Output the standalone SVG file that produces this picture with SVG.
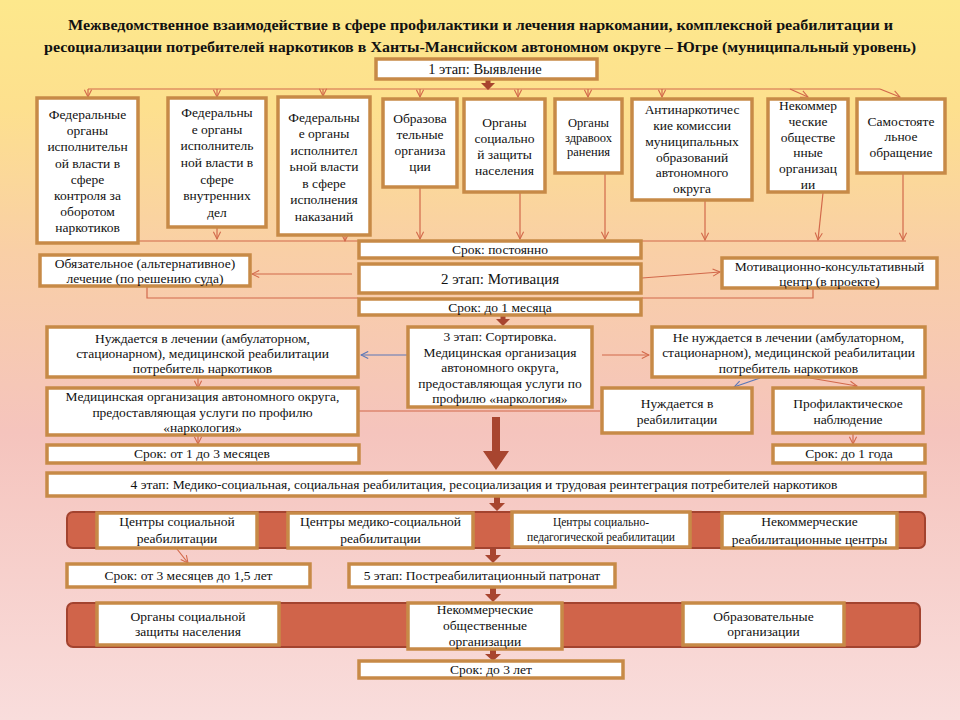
<svg xmlns="http://www.w3.org/2000/svg" width="960" height="720" viewBox="0 0 960 720">
<defs>
<linearGradient id="bg" x1="0" y1="0" x2="0" y2="1">
<stop offset="0" stop-color="#fde88c"/>
<stop offset="0.15" stop-color="#fde08e"/>
<stop offset="0.35" stop-color="#f9cfa6"/>
<stop offset="0.6" stop-color="#f5c4bd"/>
<stop offset="1" stop-color="#f9dddc"/>
</linearGradient>
<marker id="ah" viewBox="0 0 10 10" refX="9" refY="5" markerWidth="9" markerHeight="9" markerUnits="userSpaceOnUse" orient="auto"><path d="M1,1 L9,5 L1,9" fill="none" stroke="#d2694b" stroke-width="1.2"/></marker>
<marker id="ahb" viewBox="0 0 10 10" refX="9" refY="5" markerWidth="9" markerHeight="9" markerUnits="userSpaceOnUse" orient="auto"><path d="M1,1 L9,5 L1,9" fill="none" stroke="#5a77b8" stroke-width="1.2"/></marker>
</defs>
<style>
.box{fill:#fff;stroke:#c78a47;stroke-width:3.5}
.bar{fill:#d0644a;stroke:#a3432f;stroke-width:2}
.t{font-family:"Liberation Serif","DejaVu Serif",serif;font-size:13.5px;fill:#111;text-anchor:middle}
.s{font-size:12.5px}
.ti{font-family:"Liberation Serif","DejaVu Serif",serif;font-size:15px;font-weight:bold;fill:#111}
.c{fill:none;stroke:#d2694b;stroke-width:1.2}
.cb{fill:none;stroke:#5a77b8;stroke-width:1.2}
.th{fill:#a8452f}
</style>
<rect x="0" y="0" width="960" height="720" fill="url(#bg)"/>
<g id="title">
<text class="ti" x="68" y="30" textLength="825" lengthAdjust="spacingAndGlyphs">Межведомственное взаимодействие  в сфере профилактики и лечения наркомании, комплексной реабилитации и</text>
<text class="ti" x="44" y="52" textLength="872" lengthAdjust="spacingAndGlyphs">ресоциализации  потребителей наркотиков в Ханты-Мансийском автономном округе – Югре (муниципальный уровень)</text>
</g>
<g id="connectors">
<path class="c" d="M88,89 H880"/>
<path class="c" d="M88,89 V97" marker-end="url(#ah)"/>
<path class="c" d="M217,89 V97" marker-end="url(#ah)"/>
<path class="c" d="M323,89 V96" marker-end="url(#ah)"/>
<path class="c" d="M420,89 V97" marker-end="url(#ah)"/>
<path class="c" d="M518,89 V97" marker-end="url(#ah)"/>
<path class="c" d="M588,89 V97" marker-end="url(#ah)"/>
<path class="c" d="M662,89 V97" marker-end="url(#ah)"/>
<path class="c" d="M790,89 L808,97" marker-end="url(#ah)"/>
<path class="c" d="M880,89 L900,97" marker-end="url(#ah)"/>
<path class="c" d="M138,241 H358"/>
<path class="c" d="M217,228 V239" marker-end="url(#ah)"/>
<path class="c" d="M345,236 V241" marker-end="url(#ah)"/>
<path class="c" d="M420,188 V239" marker-end="url(#ah)"/>
<path class="c" d="M520,193 V239" marker-end="url(#ah)"/>
<path class="c" d="M605,174 V239" marker-end="url(#ah)"/>
<path class="c" d="M642,241 H906"/>
<path class="c" d="M705,201 V240" marker-end="url(#ah)"/>
<path class="c" d="M823,193 L818,240" marker-end="url(#ah)"/>
<path class="c" d="M903,174 V240" marker-end="url(#ah)"/>
<path class="c" d="M352,274 H252" marker-end="url(#ah)"/>
<path class="c" d="M147,287 V298 H358"/>
<path class="c" d="M642,278 L720,272" marker-end="url(#ah)"/>
<path class="c" d="M813,289 V298 H642"/>
<path class="cb" d="M407,355 H361" marker-end="url(#ahb)"/>
<path class="c" d="M602,355 H649" marker-end="url(#ah)"/>
<path class="c" d="M198,378 V388" marker-end="url(#ah)"/>
<path class="c" d="M358,411 H600"/>
<path class="c" d="M198,436 V444" marker-end="url(#ah)"/>
<path class="cb" d="M760,378 L734,387" marker-end="url(#ahb)"/>
<path class="c" d="M810,378 L857,386" marker-end="url(#ah)"/>
<path class="c" d="M853,434 V444" marker-end="url(#ah)"/>
<path class="c" d="M177,549 L188,563" marker-end="url(#ah)"/>
<path class="th" d="M485.5,79 H490.5 V83 H495 L488,90 L481,83 H485.5 Z"/>
<path class="th" d="M500.5,315 H505.5 V319 H510 L503,326 L496,319 H500.5 Z"/>
<path class="th" d="M492,417 H500 V451 H509 L496,470 L483,451 H492 Z"/>
<path class="th" d="M494,496 H500 V503 H505 L497,511 L489,503 H494 Z"/>
<path class="th" d="M490,548 H496 V555 H501 L493,563 L485,555 H490 Z"/>
<path class="th" d="M490,587 H496 V594 H501 L493,602 L485,594 H490 Z"/>
<path class="th" d="M490,649 H496 V654 H501 L493,661 L485,654 H490 Z"/>
</g>
<g id="n-stage1"><rect class="box" x="376" y="59" width="221" height="20"/><text class="t" x="485" y="74" style="font-size:14.5px">1 этап: Выявление</text></g>
<g id="n-fed1"><rect class="box" x="37" y="98" width="101" height="145"/><text class="t"><tspan x="87.5" y="119">Федеральные</tspan><tspan x="87.5" y="135">органы</tspan><tspan x="87.5" y="151">исполнительн</tspan><tspan x="87.5" y="168">ой власти в</tspan><tspan x="87.5" y="184">сфере</tspan><tspan x="87.5" y="200">контроля за</tspan><tspan x="87.5" y="216">оборотом</tspan><tspan x="87.5" y="232">наркотиков</tspan></text></g>
<g id="n-fed2"><rect class="box" x="168" y="98" width="98" height="129"/><text class="t"><tspan x="217" y="117">Федеральны</tspan><tspan x="217" y="134">е органы</tspan><tspan x="217" y="150">исполнитель</tspan><tspan x="217" y="167">ной власти в</tspan><tspan x="217" y="184">сфере</tspan><tspan x="217" y="200">внутренних</tspan><tspan x="217" y="217">дел</tspan></text></g>
<g id="n-fed3"><rect class="box" x="278" y="97" width="92" height="138"/><text class="t"><tspan x="324" y="122">Федеральны</tspan><tspan x="324" y="138">е органы</tspan><tspan x="324" y="155">исполнител</tspan><tspan x="324" y="171">ьной власти</tspan><tspan x="324" y="188">в сфере</tspan><tspan x="324" y="204">исполнения</tspan><tspan x="324" y="221">наказаний</tspan></text></g>
<g id="n-edu"><rect class="box" x="383" y="99" width="74" height="88"/><text class="t"><tspan x="420" y="123">Образова</tspan><tspan x="420" y="139">тельные</tspan><tspan x="420" y="155">организа</tspan><tspan x="420" y="171">ции</tspan></text></g>
<g id="n-soc"><rect class="box" x="464" y="99" width="81" height="93"/><text class="t"><tspan x="504.5" y="127">Органы</tspan><tspan x="504.5" y="143">социально</tspan><tspan x="504.5" y="159">й защиты</tspan><tspan x="504.5" y="175">населения</tspan></text></g>
<g id="n-health"><rect class="box" x="555" y="99" width="67" height="74"/><text class="t s"><tspan x="588.5" y="127">Органы</tspan><tspan x="588.5" y="142">здравоох</tspan><tspan x="588.5" y="156">ранения</tspan></text></g>
<g id="n-anti"><rect class="box" x="632" y="99" width="120" height="101"/><text class="t"><tspan x="692" y="114">Антинаркотичес</tspan><tspan x="692" y="130">кие комиссии</tspan><tspan x="692" y="146">муниципальных</tspan><tspan x="692" y="162">образований</tspan><tspan x="692" y="177">автономного</tspan><tspan x="692" y="193">округа</tspan></text></g>
<g id="n-nko"><rect class="box" x="768" y="99" width="80" height="93"/><text class="t"><tspan x="808" y="110">Некоммер</tspan><tspan x="808" y="126">ческие</tspan><tspan x="808" y="142">обществе</tspan><tspan x="808" y="157">нные</tspan><tspan x="808" y="173">организац</tspan><tspan x="808" y="189">ии</tspan></text></g>
<g id="n-self"><rect class="box" x="857" y="99" width="88" height="74"/><text class="t"><tspan x="901" y="126">Самостояте</tspan><tspan x="901" y="141">льное</tspan><tspan x="901" y="157">обращение</tspan></text></g>
<g id="n-term-const"><rect class="box" x="359" y="241" width="282" height="17"/><text class="t" x="500" y="254">Срок: постоянно</text></g>
<g id="n-stage2"><rect class="box" x="359" y="264" width="282" height="29"/><text class="t" x="500" y="284" style="font-size:15px">2 этап: Мотивация</text></g>
<g id="n-term-1m"><rect class="box" x="359" y="299" width="282" height="16"/><text class="t" x="500" y="312">Срок: до 1 месяца</text></g>
<g id="n-court"><rect class="box" x="40" y="255" width="210" height="31"/><text class="t"><tspan x="145" y="268">Обязательное  (альтернативное)</tspan><tspan x="145" y="283">лечение (по  решению суда)</tspan></text></g>
<g id="n-motiv"><rect class="box" x="722" y="258" width="215" height="30"/><text class="t"><tspan x="829.5" y="271">Мотивационно-консультативный</tspan><tspan x="829.5" y="286">центр (в проекте)</tspan></text></g>
<g id="n-stage3"><rect class="box" x="408" y="327" width="184" height="80"/><text class="t"><tspan x="500" y="341">3 этап: Сортировка.</tspan><tspan x="500" y="357">Медицинская организация</tspan><tspan x="500" y="372">автономного округа,</tspan><tspan x="500" y="388">предоставляющая  услуги по</tspan><tspan x="500" y="403">профилю «наркология»</tspan></text></g>
<g id="n-need"><rect class="box" x="47" y="327" width="311" height="50"/><text class="t"><tspan x="202.5" y="343">Нуждается  в лечении (амбулаторном,</tspan><tspan x="202.5" y="358">стационарном), медицинской  реабилитации</tspan><tspan x="202.5" y="373">потребитель  наркотиков</tspan></text></g>
<g id="n-medorg"><rect class="box" x="47" y="388" width="311" height="47"/><text class="t"><tspan x="202.5" y="401">Медицинская  организация  автономного округа,</tspan><tspan x="202.5" y="417">предоставляющая  услуги по профилю</tspan><tspan x="202.5" y="432">«наркология»</tspan></text></g>
<g id="n-term-1-3m"><rect class="box" x="47" y="445" width="312" height="18"/><text class="t" x="202" y="458">Срок:  от 1 до 3 месяцев</text></g>
<g id="n-noneed"><rect class="box" x="652" y="327" width="273" height="50"/><text class="t"><tspan x="788.5" y="342">Не нуждается в лечении (амбулаторном,</tspan><tspan x="788.5" y="357">стационарном), медицинской  реабилитации</tspan><tspan x="788.5" y="373">потребитель  наркотиков</tspan></text></g>
<g id="n-rehab"><rect class="box" x="602" y="388" width="150" height="45"/><text class="t"><tspan x="677" y="408">Нуждается  в</tspan><tspan x="677" y="424">реабилитации</tspan></text></g>
<g id="n-prof"><rect class="box" x="773" y="388" width="150" height="45"/><text class="t"><tspan x="848" y="408">Профилактическое</tspan><tspan x="848" y="424">наблюдение</tspan></text></g>
<g id="n-term-1y"><rect class="box" x="773" y="445" width="152" height="18"/><text class="t" x="849" y="458">Срок:  до 1 года</text></g>
<g id="n-stage4"><rect class="box" x="47" y="473" width="878" height="23"/><text class="t" x="484" y="489">4 этап:  Медико-социальная,  социальная реабилитация,  ресоциализация и трудовая реинтеграция  потребителей  наркотиков</text></g>
<g id="n-bar1"><rect class="bar" x="67" y="512" width="858" height="36" rx="6"/>
<rect class="box" x="97" y="513" width="160" height="35"/><text class="t"><tspan x="177" y="526">Центры  социальной</tspan><tspan x="177" y="543">реабилитации</tspan></text>
<rect class="box" x="288" y="513" width="185" height="35"/><text class="t"><tspan x="380.5" y="526">Центры  медико-социальной</tspan><tspan x="380.5" y="543">реабилитации</tspan></text>
<rect class="box" x="512" y="512" width="178" height="35"/><text class="t" style="font-size:11.5px"><tspan x="601" y="526">Центры социально-</tspan><tspan x="601" y="541">педагогической  реабилитации</tspan></text>
<rect class="box" x="722" y="513" width="175" height="35"/><text class="t"><tspan x="809.5" y="526">Некоммерческие</tspan><tspan x="809.5" y="544">реабилитационные  центры</tspan></text>
</g>
<g id="n-term-3m-15y"><rect class="box" x="67" y="564" width="243" height="23"/><text class="t" x="188.5" y="580">Срок:  от 3 месяцев до 1,5 лет</text></g>
<g id="n-stage5"><rect class="box" x="349" y="564" width="266" height="23"/><text class="t" x="482" y="580">5 этап:  Постреабилитационный  патронат</text></g>
<g id="n-bar2"><rect class="bar" x="67" y="603" width="853" height="44" rx="6"/>
<rect class="box" x="97" y="603" width="182" height="42"/><text class="t"><tspan x="188" y="621">Органы социальной</tspan><tspan x="188" y="636">защиты населения</tspan></text>
<rect class="box" x="408" y="603" width="154" height="46"/><text class="t"><tspan x="485" y="614">Некоммерческие</tspan><tspan x="485" y="630">общественные</tspan><tspan x="485" y="646">организации</tspan></text>
<rect class="box" x="683" y="603" width="161" height="42"/><text class="t"><tspan x="763.5" y="621">Образовательные</tspan><tspan x="763.5" y="636">организации</tspan></text>
</g>
<g id="n-term-3y"><rect class="box" x="359" y="661" width="264" height="17"/><text class="t" x="491" y="674">Срок:  до 3 лет</text></g>
</svg>
